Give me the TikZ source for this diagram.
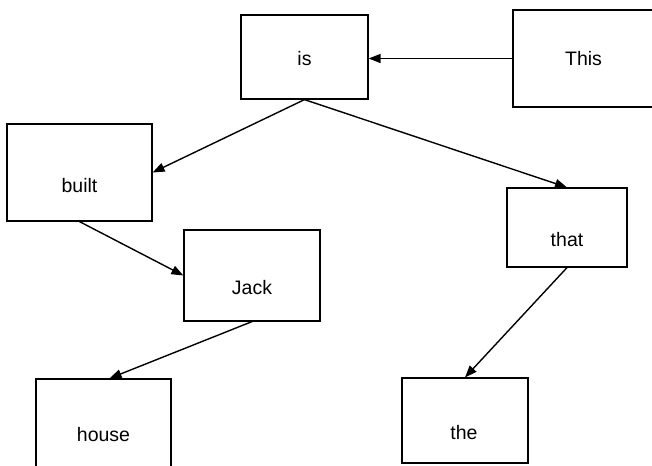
\documentclass[tikz,border=0pt]{standalone}
\usepackage{fontspec}
\setmainfont{Liberation Sans}
\usetikzlibrary{arrows.meta}
\begin{document}
\begin{tikzpicture}[x=1pt,y=-1pt,
  wordbox/.style={draw=black, line width=1.2pt, fill=white, inner sep=0pt},
  word/.style={font=\fontsize{19.5}{22}\selectfont},
  link/.style={draw=black, line width=1.4pt, -{Triangle[length=12pt,width=9pt]}}]
\clip (0,0) rectangle (652,465);
\fill[white] (0,0) rectangle (652,465);

% word boxes; the printed word sits a little below each box centre
\node[wordbox, minimum width=127pt, minimum height=84pt,
      label={[word, yshift=-2pt]center:is}] (is) at (304.5,57) {};
\node[wordbox, minimum width=147pt, minimum height=97pt,
      label={[word, xshift=-3pt, yshift=0pt]center:This}] (this) at (586.5,58.5) {};
\node[wordbox, minimum width=145pt, minimum height=97pt,
      label={[word, yshift=-13.5pt]center:built}] (built) at (79.5,172.5) {};
\node[wordbox, minimum width=120pt, minimum height=79pt,
      label={[word, yshift=-12.5pt]center:that}] (that) at (567,227.5) {};
\node[wordbox, minimum width=136pt, minimum height=91pt,
      label={[word, yshift=-12.5pt]center:Jack}] (jack) at (252,275.5) {};
\node[wordbox, minimum width=126pt, minimum height=85pt,
      label={[word, xshift=-1pt, yshift=-12.5pt]center:the}] (the) at (465,420.5) {};
\node[wordbox, minimum width=135pt, minimum height=96pt,
      label={[word, yshift=-8pt]center:house}] (house) at (103.5,427) {};

% connectors
\draw[link] (this.west) -- (this.west -| is.east);
\draw[link] (is.south) -- (built.east);
\draw[link] (is.south) -- (that.north);
\draw[link] (built.south) -- (jack.west);
\draw[link] (jack.south) -- ([xshift=6pt]house.north);
\draw[link] (that.south) -- (the.north);
\end{tikzpicture}
\end{document}
